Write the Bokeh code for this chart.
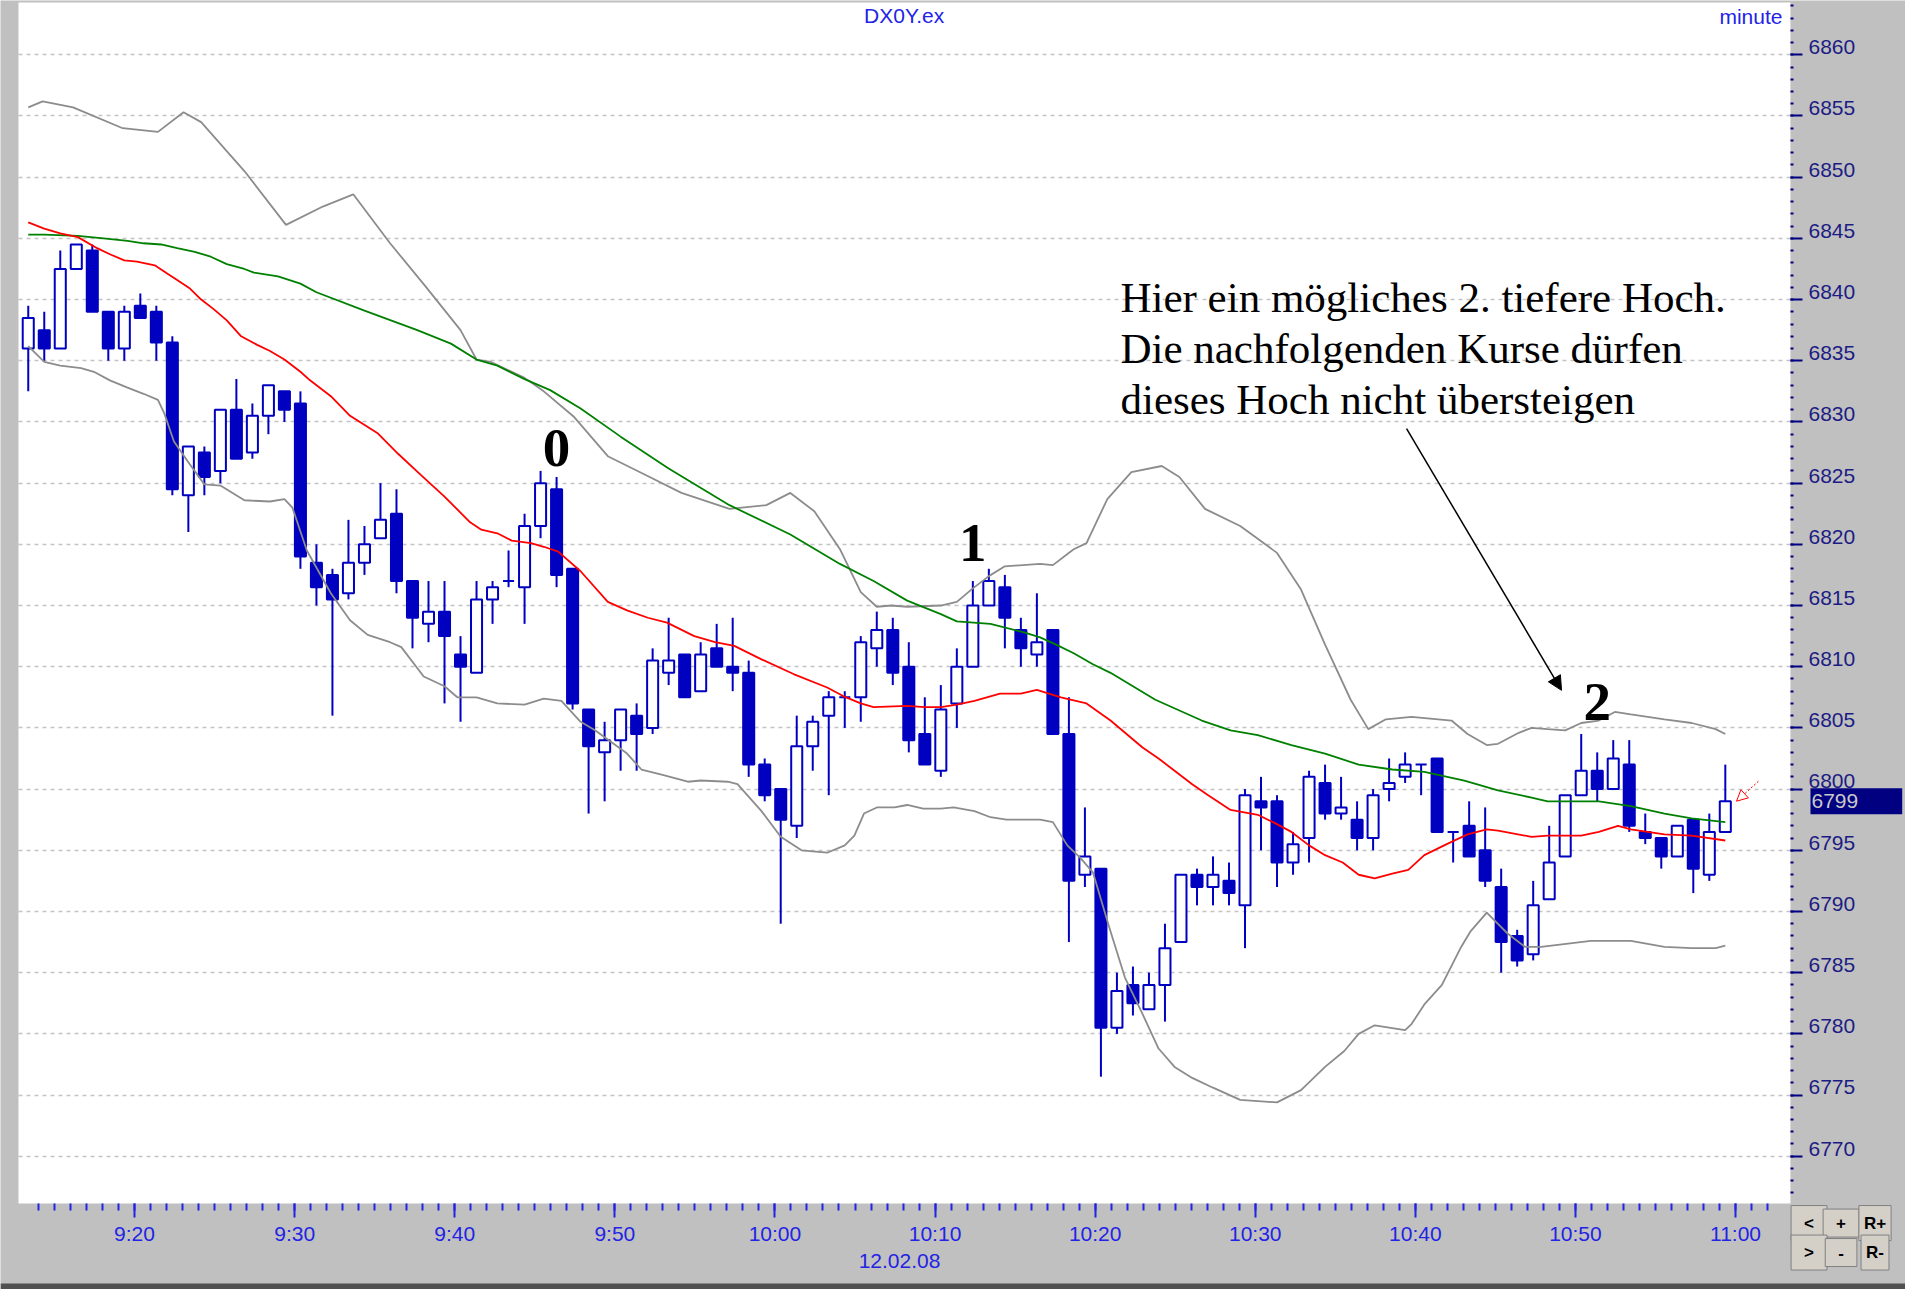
from bokeh.plotting import figure
from bokeh.models import (Range1d, LinearAxis, FixedTicker, Grid, Label, Arrow,
                          NormalHead, ColumnDataSource, BoxAnnotation)
from bokeh.embed import file_html
from bokeh.resources import INLINE

# ---------------- data ----------------
# one-minute bars, minutes after 9:00 (9:14 ... 11:00)
bar_minutes = list(range(14, 121))
opens = [6836, 6837.5, 6836, 6842.5, 6844, 6839, 6836, 6839.5, 6839, 6836.5,
         6824, 6827.5, 6826, 6831, 6827.5, 6830.5, 6832.5, 6831.5, 6818.5, 6817.5,
         6816, 6818.5, 6820.5, 6822.5, 6817, 6813.5, 6814.5, 6811, 6809.5, 6815.5,
         6817, 6816.5, 6821.5, 6824.5, 6818, 6806.5, 6803, 6804, 6806, 6805,
         6809.5, 6811, 6808, 6811.5, 6810, 6809.5, 6802, 6800, 6797, 6803.5,
         6806, 6807.5, 6807.5, 6811.5, 6813, 6810, 6804.5, 6801.5, 6807, 6810,
         6815, 6816.5, 6813, 6811, 6813, 6804.5, 6793, 6793.5, 6780.5, 6784,
         6782, 6784, 6787.5, 6793, 6792, 6792.5, 6790.5, 6799, 6799, 6794,
         6796, 6800.5, 6798, 6797.5, 6796, 6800, 6801, 6802, 6802.5, 6796.5,
         6797, 6795, 6792, 6788, 6786.5, 6791, 6794.5, 6799.5, 6801.5, 6800,
         6802, 6796.5, 6796, 6794.5, 6797.5, 6793, 6796.5]
highs = [6839.5, 6839, 6844, 6844.5, 6844.5, 6839, 6839.5, 6840.5, 6839.5, 6837,
         6828, 6828, 6831, 6833.5, 6831.5, 6833, 6832.5, 6832.5, 6820, 6818,
         6822, 6821.5, 6825, 6824.5, 6817, 6817, 6817, 6812.5, 6817, 6817,
         6819.5, 6822.5, 6826, 6825.5, 6818, 6806.5, 6805.5, 6806.5, 6807, 6811.5,
         6814, 6811, 6812, 6813.5, 6814, 6810.5, 6802.5, 6800, 6806, 6806,
         6808, 6808, 6812.5, 6814.5, 6814, 6812, 6807.5, 6808.5, 6811.5, 6817,
         6818, 6817.5, 6814, 6816, 6813, 6807.5, 6798.5, 6793.5, 6785, 6785.5,
         6785, 6789, 6793, 6793.5, 6794.5, 6794, 6800, 6801, 6799.5, 6796.5,
         6801.5, 6802, 6801, 6799, 6800, 6802.5, 6803, 6802, 6802.5, 6796.5,
         6799, 6798.5, 6793.5, 6788.5, 6792.5, 6797, 6799.5, 6804.5, 6803, 6804,
         6804, 6798, 6796, 6797, 6797.5, 6798, 6802]
lows = [6832.5, 6835, 6836, 6842.5, 6839, 6835, 6835, 6838.5, 6835, 6824,
        6821, 6824, 6825, 6827, 6827, 6829, 6830, 6818, 6815, 6806,
        6815.5, 6817.5, 6820.5, 6816, 6811.5, 6812, 6807, 6805.5, 6809.5, 6813.5,
        6816.5, 6813.5, 6820.5, 6816.5, 6806.5, 6798, 6799, 6801.5, 6801.5, 6804.5,
        6808.5, 6807.5, 6808, 6810, 6808, 6801, 6799, 6789, 6796, 6801.5,
        6799.5, 6805, 6805.5, 6810, 6808.5, 6803, 6802, 6801, 6805, 6810,
        6815, 6811.5, 6810, 6810, 6804.5, 6787.5, 6792, 6776.5, 6780, 6781.5,
        6782, 6781, 6787.5, 6790.5, 6790.5, 6790.5, 6787, 6795, 6792, 6793,
        6794, 6797.5, 6797.5, 6795, 6795, 6799, 6800.5, 6799.5, 6796.5, 6794,
        6794.5, 6792, 6785, 6785.5, 6786, 6791, 6794.5, 6799.5, 6799, 6800,
        6796.5, 6795.5, 6793.5, 6794.5, 6791.5, 6792.5, 6796.5]
closes = [6838.5, 6836, 6842.5, 6844.5, 6839, 6836, 6839, 6838.5, 6836.5, 6824.5,
          6828, 6825.5, 6831, 6827, 6830.5, 6833, 6831, 6819, 6816.5, 6815.5,
          6818.5, 6820, 6822, 6817, 6814, 6814.5, 6812.5, 6810, 6815.5, 6816.5,
          6817, 6821.5, 6825, 6817.5, 6807, 6803.5, 6804, 6806.5, 6804.5, 6810.5,
          6810.5, 6807.5, 6811, 6810, 6809.5, 6802, 6799.5, 6797.5, 6803.5, 6805.5,
          6807.5, 6807.5, 6812, 6813, 6809.5, 6804, 6802, 6806.5, 6810, 6815,
          6817, 6814, 6811.5, 6812, 6804.5, 6792.5, 6794.5, 6780.5, 6783.5, 6782.5,
          6784, 6787, 6793, 6792, 6793, 6791.5, 6799.5, 6798.5, 6794, 6795.5,
          6801, 6798, 6798.5, 6796, 6799.5, 6800.5, 6802, 6802, 6796.5, 6796.5,
          6794.5, 6792.5, 6787.5, 6786, 6790.5, 6794, 6799.5, 6801.5, 6800, 6802.5,
          6797, 6796, 6794.5, 6797, 6793.5, 6796.5, 6799]

# indicator lines, sampled along the bar index
red_pos = [0, 1, 2, 3.1, 4.3, 5.1, 6, 6.8, 7.9, 8.7, 9.3, 10.1, 10.8, 11.6, 12.4, 13.3,
           14.3, 15.1, 16, 17, 17.6, 18.9, 20.1, 21.8, 23.1, 24.5, 26, 27.6, 28.3, 29.3,
           30.2, 31.4, 32.2, 33.1, 34.5, 36.2, 37.4, 38.7, 39.9, 41.6, 42.9, 44.1, 45.8,
           47.8, 49.9, 50.9, 52, 52.8, 54.9, 56, 57, 58, 59.1, 60.7, 62, 63, 64.5, 66.1,
           67.6, 69.6, 70.6, 71.6, 72.7, 73.7, 75.1, 76.8, 77.9, 78.9, 80, 81, 82.1, 83.1,
           84.1, 85.2, 86.2, 87.2, 88.6, 89.9, 91.1, 91.8, 93.9, 94.9, 97, 98.1, 99.3,
           100.1, 102.2, 103.9, 106]
red_val = [6846.3, 6845.8, 6845.4, 6845.1, 6844.2, 6843.7, 6843.2, 6843.1, 6842.8, 6842.1,
           6841.6, 6840.9, 6840.0, 6839.2, 6838.3, 6837.0, 6836.3, 6835.8, 6835.1, 6834.1,
           6833.4, 6832.1, 6830.5, 6829.1, 6827.4, 6825.7, 6823.9, 6821.8, 6821.2, 6820.9,
           6820.3, 6820.1, 6819.8, 6819.4, 6817.8, 6815.3, 6814.6, 6814.0, 6813.6, 6812.5,
           6812.0, 6811.7, 6810.6, 6809.4, 6808.3, 6807.6, 6807.0, 6806.7, 6806.8, 6806.7,
           6806.7, 6806.9, 6807.2, 6807.8, 6807.8, 6808.1, 6807.5, 6807.0, 6805.6, 6803.4,
           6802.5, 6801.5, 6800.4, 6799.5, 6798.3, 6797.9, 6797.2, 6796.5, 6795.4, 6794.6,
           6794.0, 6793.0, 6792.7, 6793.1, 6793.4, 6794.6, 6795.5, 6796.3, 6796.7, 6796.6,
           6796.1, 6796.2, 6796.2, 6796.5, 6797.0, 6796.7, 6796.3, 6796.2, 6795.8]
green_pos = [0, 1, 3.1, 4.7, 6.2, 7.2, 8.3, 9.3, 10.4, 11.4, 12.4, 13.5, 14.1, 15.6, 17, 18,
             21, 24.3, 26.4, 28, 29.3, 31, 32.6, 34.5, 37, 40, 43.8, 47.6, 50.7, 52.8, 54.9,
             57, 58, 60.1, 62.2, 63.2, 64.2, 65.3, 66.5, 67.6, 70.4, 73.3, 75.1, 76.8, 78.9,
             81, 83.1, 85.2, 87.2, 89.7, 91.8, 93.9, 94.9, 98.1, 100.1, 102.2, 103.9, 106]
green_val = [6845.3, 6845.3, 6845.2, 6845.0, 6844.8, 6844.6, 6844.5, 6844.2, 6843.9, 6843.5,
             6842.9, 6842.5, 6842.2, 6841.9, 6841.3, 6840.6, 6839.1, 6837.5, 6836.4, 6835.1,
             6834.6, 6833.5, 6832.6, 6831.1, 6828.8, 6826.2, 6823.2, 6820.8, 6818.4, 6817.0,
             6815.4, 6814.3, 6813.7, 6813.5, 6812.8, 6812.4, 6811.8, 6811.1, 6810.2, 6809.5,
             6807.3, 6805.6, 6804.8, 6804.4, 6803.6, 6802.9, 6802.0, 6801.6, 6801.4, 6800.7,
             6799.9, 6799.3, 6799.0, 6799.0, 6798.6, 6798.0, 6797.6, 6797.3]
upper_pos = [0, 0.9, 2.8, 5.9, 8.1, 9.7, 10.8, 13.5, 16.1, 18.4, 20.3, 22.6, 24.8, 27, 28,
             28.9, 31, 32.2, 34.1, 36.2, 38.5, 40.8, 43.8, 46.1, 47.6, 49.1, 50.7, 52, 53,
             53.9, 54.9, 57, 58, 59, 60, 61, 63.2, 64, 65.3, 66.1, 67.4, 68.9, 70.8, 71.9,
             73.5, 75.7, 78, 79.5, 81, 82.6, 83.7, 84.8, 86.4, 88.9, 89.9, 91.1, 91.8, 93.1,
             93.9, 94.9, 96, 97, 98.1, 99.1, 100.1, 102.2, 103.9, 105.4, 106]
upper_val = [6855.7, 6856.2, 6855.7, 6854.0, 6853.7, 6855.3, 6854.5, 6850.5, 6846.1, 6847.6,
             6848.6, 6844.6, 6841.1, 6837.5, 6835.1, 6834.9, 6833.6, 6832.5, 6830.4, 6827.2,
             6825.7, 6824.2, 6822.9, 6823.2, 6824.2, 6822.7, 6819.6, 6816.1, 6814.9, 6815.0,
             6814.9, 6815.0, 6815.3, 6816.4, 6817.4, 6818.2, 6818.4, 6818.3, 6819.6, 6820.1,
             6823.7, 6825.9, 6826.4, 6825.5, 6822.9, 6821.5, 6819.3, 6816.3, 6811.8, 6807.3,
             6804.9, 6805.7, 6805.9, 6805.6, 6804.5, 6803.6, 6803.7, 6804.6, 6805.0, 6804.9,
             6804.8, 6805.4, 6805.6, 6806.3, 6806.1, 6805.7, 6805.4, 6804.9, 6804.5]
lower_pos = [0, 1, 2, 3.3, 4.1, 5.1, 6.2, 7.2, 8.1, 8.5, 9.1, 10, 11, 12, 13.5, 15.1, 16,
             16.5, 17.4, 18.9, 20.1, 21.2, 22.6, 23.3, 24.7, 26, 26.8, 28, 29.3, 31, 32.2,
             33.3, 34.5, 35.4, 37.4, 38.3, 39.5, 41.2, 42, 43.7, 44.3, 45.8, 47, 48.3, 49.9,
             51, 51.6, 52.2, 53, 54.1, 54.9, 55.9, 57, 57.8, 59.1, 60.1, 61.1, 63.2, 64,
             64.9, 65.7, 66.5, 67.5, 68.5, 69.5, 70.6, 71.6, 72.7, 74, 75.7, 78, 79.5, 81,
             82.2, 83.1, 84.1, 86, 86.4, 87.2, 88.3, 89.5, 90.1, 91.1, 92.4, 93.5, 94.5,
             97.6, 100.1, 102.2, 103.9, 105.4, 106]
lower_val = [6836.2, 6834.9, 6834.6, 6834.4, 6834.1, 6833.4, 6832.8, 6832.3, 6831.8, 6830.7,
             6828.4, 6826.7, 6824.9, 6824.8, 6823.6, 6823.5, 6823.7, 6823.0, 6819.5, 6816.0,
             6813.8, 6812.6, 6812.0, 6811.6, 6809.2, 6808.4, 6807.5, 6807.5, 6807.0, 6806.9,
             6807.4, 6807.2, 6805.5, 6804.8, 6802.9, 6801.6, 6801.2, 6800.6, 6800.7, 6800.6,
             6800.4, 6798.2, 6796.1, 6795.0, 6794.8, 6795.4, 6796.2, 6798.0, 6798.5, 6798.5,
             6798.7, 6798.4, 6798.4, 6798.5, 6798.2, 6797.7, 6797.5, 6797.5, 6797.3, 6795.4,
             6794.4, 6793.2, 6788.8, 6784.6, 6781.9, 6778.8, 6777.3, 6776.4, 6775.6, 6774.6,
             6774.4, 6775.4, 6777.3, 6778.6, 6780.0, 6780.7, 6780.3, 6780.8, 6782.4, 6784.0,
             6787.1, 6788.4, 6789.9, 6788.2, 6787.1, 6787.1, 6787.6, 6787.6, 6787.1, 6787.0,
             6787.0, 6787.2]

price_ticks = list(range(6770, 6861, 5))
price_minor = list(range(6767, 6865))
time_ticks = list(range(20, 121, 10))
time_minor = list(range(14, 123))
time_labels = ["9:20", "9:30", "9:40", "9:50", "10:00", "10:10", "10:20", "10:30",
               "10:40", "10:50", "11:00"]

# ---------------- layout / styling constants ----------------
FIRST_MINUTE = bar_minutes[0]
BAR_SHIFT = 0.64            # bars are drawn slightly left of their minute tick
X_VIEW = (11.6265, 130.615)  # whole canvas, in minutes after 9:00
Y_VIEW = (6759.11, 6864.437)  # whole canvas, in price
PLOT_X0, PLOT_X1 = 12.75, 123.43    # white chart area
PLOT_Y0, PLOT_Y1 = 6766.14, 6864.27
LABEL_LIFT = 0.62           # price labels sit on top of their tick
BAR_BLUE = "#0000c0"
AXIS_BLUE = "#2323e6"
PRICE_NAVY = "#1c1c84"
GREY_BG = "#c0c0c0"

p = figure(width=1905, height=1289,
           x_range=Range1d(*X_VIEW), y_range=Range1d(*Y_VIEW),
           x_axis_type=None, y_axis_type=None, title=None,
           toolbar_location=None, output_backend="svg",
           min_border_left=0, min_border_right=0, min_border_top=0,
           min_border_bottom=0)
p.background_fill_color = GREY_BG
p.border_fill_color = GREY_BG
p.outline_line_color = None
p.extra_y_ranges = {"price_labels": Range1d(Y_VIEW[0] - LABEL_LIFT, Y_VIEW[1] - LABEL_LIFT)}

# white chart area
p.add_layout(BoxAnnotation(left=PLOT_X0, right=PLOT_X1, bottom=PLOT_Y0, top=PLOT_Y1,
                           fill_color="white", fill_alpha=1.0, line_color=None,
                           level="underlay"))
# bottom window edge
p.add_layout(BoxAnnotation(left=X_VIEW[0], right=X_VIEW[1], bottom=Y_VIEW[0], top=6759.6,
                           fill_color="#505050", fill_alpha=1.0, line_color=None,
                           level="underlay"))

# grid
p.add_layout(Grid(dimension=1, ticker=FixedTicker(ticks=price_ticks),
                  cross_bounds=(PLOT_X0, PLOT_X1),
                  grid_line_color="#c4c4c4", grid_line_dash="4 4",
                  grid_line_width=1.3))

# price scale: ticks on the chart edge, labels resting on their tick
tick_style = dict(axis_line_color=None, major_tick_in=0, major_tick_out=12,
                  minor_tick_in=0, minor_tick_out=3, major_tick_line_width=2,
                  minor_tick_line_width=2, major_label_standoff=6,
                  major_label_text_font="Liberation Sans",
                  major_label_text_font_size="21px")
yaxis = LinearAxis(ticker=FixedTicker(ticks=price_ticks, minor_ticks=price_minor),
                   fixed_location=PLOT_X1,
                   major_tick_line_color="#000080", minor_tick_line_color="#000080",
                   major_label_text_color=None, **tick_style)
p.add_layout(yaxis, "right")
ylabels = LinearAxis(ticker=FixedTicker(ticks=price_ticks), y_range_name="price_labels",
                     fixed_location=PLOT_X1,
                     major_tick_line_color=None, minor_tick_line_color=None,
                     major_label_text_color=PRICE_NAVY, **tick_style)
p.add_layout(ylabels, "right")

xaxis = LinearAxis(ticker=FixedTicker(ticks=time_ticks, minor_ticks=time_minor),
                   major_label_overrides={t: s for t, s in zip(time_ticks, time_labels)},
                   fixed_location=PLOT_Y0,
                   axis_line_color=None,
                   major_tick_in=0, major_tick_out=14, minor_tick_in=0, minor_tick_out=7,
                   major_tick_line_color=AXIS_BLUE, minor_tick_line_color=AXIS_BLUE,
                   major_tick_line_width=2, minor_tick_line_width=2,
                   major_label_standoff=5,
                   major_label_text_font="Liberation Sans",
                   major_label_text_font_size="21px",
                   major_label_text_color=AXIS_BLUE)
p.add_layout(xaxis, "below")

# candles
bx = [m - BAR_SHIFT for m in bar_minutes]
src = ColumnDataSource(dict(
    x=bx, low=lows, high=highs,
    top=[max(o, c) for o, c in zip(opens, closes)],
    bottom=[min(o, c) for o, c in zip(opens, closes)],
    fill=["white" if c >= o else BAR_BLUE for o, c in zip(opens, closes)]))
p.segment(x0="x", y0="low", x1="x", y1="high", source=src,
          line_color=BAR_BLUE, line_width=2)
p.vbar(x="x", top="top", bottom="bottom", width=0.69, source=src,
       fill_color="fill", line_color=BAR_BLUE, line_width=2)


def line_x(pos):
    return [FIRST_MINUTE + k - BAR_SHIFT for k in pos]


p.line(line_x(upper_pos), upper_val, line_color="#8c8c8c", line_width=1.8)
p.line(line_x(lower_pos), lower_val, line_color="#8c8c8c", line_width=1.8)
p.line(line_x(green_pos), green_val, line_color="#008000", line_width=1.8)
p.line(line_x(red_pos), red_val, line_color="#ff0000", line_width=1.8)

# texts inside the chart
p.add_layout(Label(x=68.07, y=6863.2, text="DX0Y.ex", text_align="center",
                   text_baseline="middle", text_font="Liberation Sans",
                   text_font_size="21px", text_color=AXIS_BLUE))
p.add_layout(Label(x=122.93, y=6863.1, text="minute", text_align="right",
                   text_baseline="middle", text_font="Liberation Sans",
                   text_font_size="21px", text_color=AXIS_BLUE))

wave_labels = [("0", 33, 6827.9), ("1", 59, 6820.1), ("2", 98, 6807.1)]
for txt, k, yc in wave_labels:
    p.add_layout(Label(x=FIRST_MINUTE + k - BAR_SHIFT, y=yc, text=txt,
                       text_align="center", text_baseline="middle",
                       text_font="Liberation Serif", text_font_style="bold",
                       text_font_size="55px", text_color="black"))

note_lines = ["Hier ein mögliches 2. tiefere Hoch.",
              "Die nachfolgenden Kurse dürfen",
              "dieses Hoch nicht übersteigen"]
note_centers = [6840.2, 6836.0, 6831.85]
for txt, yc in zip(note_lines, note_centers):
    p.add_layout(Label(x=81.58, y=yc, text=txt, text_align="left",
                       text_baseline="middle", text_font="Liberation Serif",
                       text_font_size="43px", text_color="black"))

p.add_layout(Arrow(x_start=99.45, y_start=6829.46, x_end=109.13, y_end=6808.07,
                   line_color="black", line_width=1.5,
                   end=NormalHead(size=14, fill_color="black", line_color="black")))
p.add_layout(Arrow(x_start=121.43, y_start=6800.64, x_end=120.06, y_end=6799.01,
                   line_color="#ff0000", line_width=1, line_dash="2 2",
                   end=NormalHead(size=11, fill_color="white", line_color="#ff0000",
                                  line_width=1)))

# last price marker on the price scale
p.add_layout(Label(x=124.68, y=closes[-1], text=f"{closes[-1]:.0f}", text_align="left",
                   text_baseline="middle", text_font="Liberation Sans",
                   text_font_size="21px", text_color="#c8c8c8",
                   background_fill_color="#000080",
                   padding=dict(left=1, right=44, top=6, bottom=6)))

# date under the time scale
p.add_layout(Label(x=67.78, y=6761.4, text="12.02.08", text_align="center",
                   text_baseline="middle", text_font="Liberation Sans",
                   text_font_size="21px", text_color=AXIS_BLUE))

# zoom buttons
buttons = [("<", 124.59, 6764.54), ("+", 126.59, 6764.54), ("R+", 128.71, 6764.54),
           (">", 124.59, 6762.13), ("-", 126.59, 6762.13), ("R-", 128.71, 6762.13)]
for txt, bxp, byp in buttons:
    pad_h = 13 if len(txt) == 1 else 5
    p.add_layout(Label(x=bxp, y=byp, text=txt, text_align="center",
                       text_baseline="middle", text_font="Liberation Sans",
                       text_font_style="bold", text_font_size="17px",
                       text_color="black", background_fill_color="#d4d0c8",
                       border_line_color="#808080", border_line_width=1,
                       padding=dict(left=pad_h, right=pad_h, top=8, bottom=8)))

open("out.html", "w").write(file_html(p, INLINE))
